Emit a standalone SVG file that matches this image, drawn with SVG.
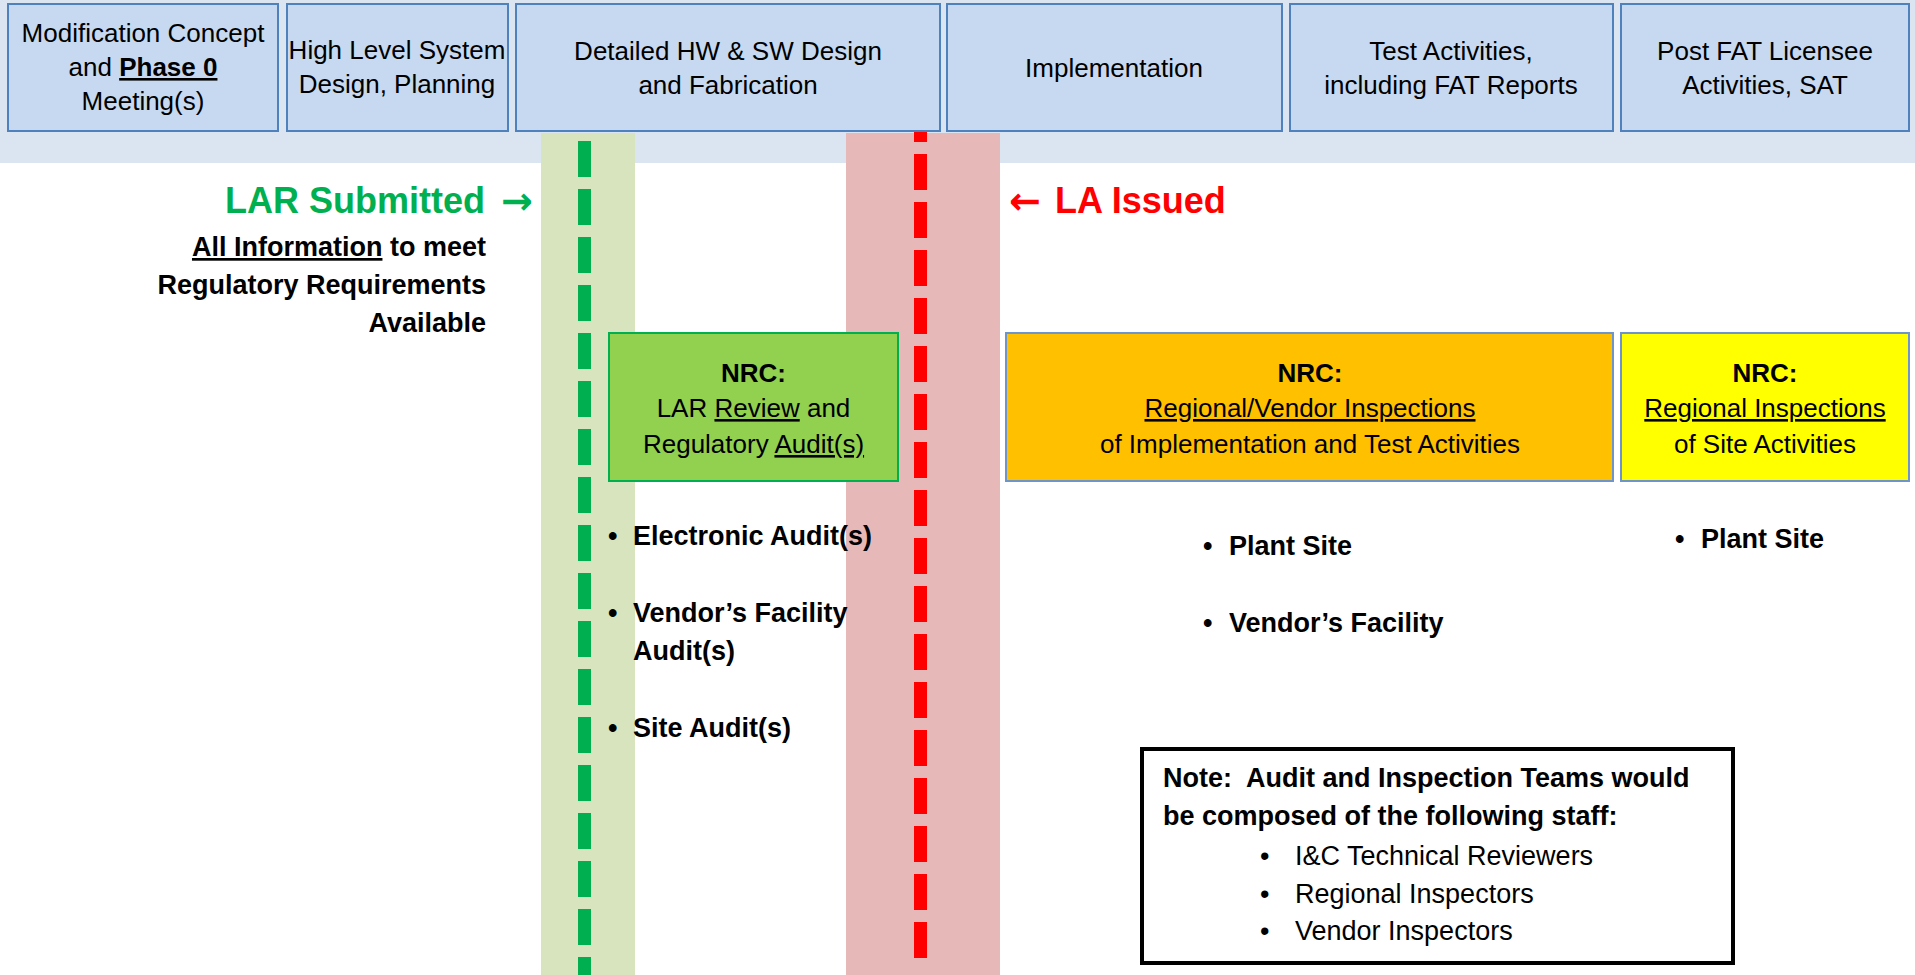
<svg xmlns="http://www.w3.org/2000/svg" width="1915" height="975" viewBox="0 0 1915 975">
<style>
.hdr{fill:#c6d9f0;stroke:#4f81bd;stroke-width:2}
.ht{font-family:"Liberation Sans",Arial,sans-serif;font-size:26px;fill:#000;text-anchor:middle}
.bt{font-family:"Liberation Sans",Arial,sans-serif;font-size:27px;fill:#000;font-weight:bold}
.rt{font-family:"Liberation Sans",Arial,sans-serif;font-size:27px;fill:#000}
.nt{font-family:"Liberation Sans",Arial,sans-serif;font-size:26px;fill:#000;text-anchor:middle}
.u{text-decoration:underline}
.b{font-weight:bold}
.big{font-family:"Liberation Sans",Arial,sans-serif;font-size:36px;font-weight:bold}
.arr{font-family:"DejaVu Sans",sans-serif;font-size:38px;font-weight:bold;text-anchor:middle}
</style>
<rect width="1915" height="975" fill="#ffffff"/>
<rect id="header-band" x="0" y="0" width="1915" height="163" fill="#dbe5f1"/>
<rect id="lar-band" x="541" y="133" width="94" height="842" fill="#d7e4bd"/>
<rect id="la-band" x="846" y="133" width="154" height="842" fill="#e6b9b8"/>
<g id="connectors">
<line x1="584.5" y1="141" x2="584.5" y2="975" stroke="#00b050" stroke-width="13" stroke-dasharray="36 12"/>
<line x1="920.5" y1="106" x2="920.5" y2="958" stroke="#ff0000" stroke-width="13" stroke-dasharray="36 12"/>
</g>
<g id="phase1"><rect class="hdr" x="8" y="4" width="270" height="127"/>
<text class="ht" x="143" y="42">Modification Concept</text>
<text class="ht" x="143" y="76">and <tspan class="b u">Phase 0</tspan></text>
<text class="ht" x="143" y="110">Meeting(s)</text></g>
<g id="phase2"><rect class="hdr" x="287" y="4" width="221" height="127"/>
<text class="ht" x="397" y="59">High Level System</text>
<text class="ht" x="397" y="93">Design, Planning</text></g>
<g id="phase3"><rect class="hdr" x="516" y="4" width="424" height="127"/>
<text class="ht" x="728" y="60">Detailed HW &amp; SW Design</text>
<text class="ht" x="728" y="94">and Fabrication</text></g>
<g id="phase4"><rect class="hdr" x="947" y="4" width="335" height="127"/>
<text class="ht" x="1114" y="77">Implementation</text></g>
<g id="phase5"><rect class="hdr" x="1290" y="4" width="323" height="127"/>
<text class="ht" x="1451" y="60">Test Activities,</text>
<text class="ht" x="1451" y="94">including FAT Reports</text></g>
<g id="phase6"><rect class="hdr" x="1621" y="4" width="288" height="127"/>
<text class="ht" x="1765" y="60">Post FAT Licensee</text>
<text class="ht" x="1765" y="94">Activities, SAT</text></g>
<g id="lar-submitted">
<text class="big" x="485" y="213" fill="#00b050" text-anchor="end">LAR Submitted</text>
<text class="arr" x="517" y="214" fill="#00b050">→</text>
<text class="bt" x="486" y="256" text-anchor="end"><tspan class="u">All Information</tspan> to meet</text>
<text class="bt" x="486" y="294" text-anchor="end">Regulatory Requirements</text>
<text class="bt" x="486" y="332" text-anchor="end">Available</text>
</g>
<g id="la-issued">
<text class="arr" x="1025" y="214" fill="#ff0000">←</text>
<text class="big" x="1055" y="213" fill="#ff0000">LA Issued</text>
</g>
<g id="nrc-lar-review"><rect x="609" y="333" width="289" height="148" fill="#92d050" stroke="#00b050" stroke-width="2"/>
<text class="nt b" x="753.5" y="382">NRC:</text>
<text class="nt" x="753.5" y="417">LAR <tspan class="u">Review</tspan> and</text>
<text class="nt" x="753.5" y="453">Regulatory <tspan class="u">Audit(s)</tspan></text></g>
<g id="nrc-regional-vendor"><rect x="1006" y="333" width="607" height="148" fill="#ffc000" stroke="#6d95cc" stroke-width="2"/>
<text class="nt b" x="1310" y="382">NRC:</text>
<text class="nt" x="1310" y="417"><tspan class="u">Regional/Vendor Inspections</tspan></text>
<text class="nt" x="1310" y="453">of Implementation and Test Activities</text></g>
<g id="nrc-regional-site"><rect x="1621" y="333" width="288" height="148" fill="#ffff00" stroke="#6d95cc" stroke-width="2"/>
<text class="nt b" x="1765" y="382">NRC:</text>
<text class="nt" x="1765" y="417"><tspan class="u">Regional Inspections</tspan></text>
<text class="nt" x="1765" y="453">of Site Activities</text></g>
<g id="audit-list">
<text class="bt" x="608" y="545">•</text><text class="bt" x="633" y="545">Electronic Audit(s)</text>
<text class="bt" x="608" y="622">•</text><text class="bt" x="633" y="622">Vendor’s Facility</text>
<text class="bt" x="633" y="660">Audit(s)</text>
<text class="bt" x="608" y="737">•</text><text class="bt" x="633" y="737">Site Audit(s)</text>
</g>
<g id="inspection-list">
<text class="bt" x="1203" y="555">•</text><text class="bt" x="1229" y="555">Plant Site</text>
<text class="bt" x="1203" y="632">•</text><text class="bt" x="1229" y="632">Vendor’s Facility</text>
</g>
<g id="site-list">
<text class="bt" x="1675" y="548">•</text><text class="bt" x="1701" y="548">Plant Site</text>
</g>
<g id="note"><rect x="1142" y="749" width="591" height="214" fill="#ffffff" stroke="#000" stroke-width="4"/>
<text class="bt" x="1163" y="787" xml:space="preserve" style="white-space:pre">Note:  Audit and Inspection Teams would</text>
<text class="bt" x="1163" y="825">be composed of the following staff:</text>
<text class="rt" x="1260" y="865">•</text><text class="rt" x="1295" y="865">I&amp;C Technical Reviewers</text>
<text class="rt" x="1260" y="903">•</text><text class="rt" x="1295" y="903">Regional Inspectors</text>
<text class="rt" x="1260" y="940">•</text><text class="rt" x="1295" y="940">Vendor Inspectors</text>
</g>
</svg>
